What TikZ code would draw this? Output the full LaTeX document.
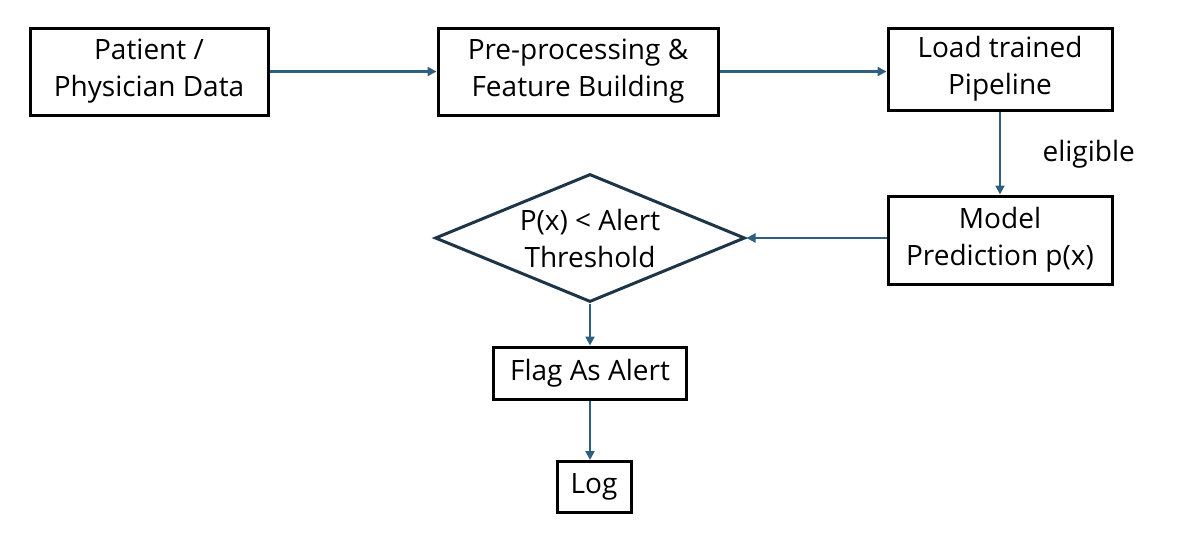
\documentclass[tikz,border=0pt]{standalone}
\usepackage{fontspec}
\setmainfont{Open Sans}
\usetikzlibrary{shapes.geometric,arrows.meta}
\definecolor{arr}{HTML}{2E5F7F}
\definecolor{dia}{HTML}{1D3547}
\begin{document}
\begin{tikzpicture}[x=1pt,y=-1pt,
  box/.style={draw=black,line width=3pt,minimum width=#1,align=center,inner sep=0pt,font=\fontsize{28}{37}\selectfont},
  conn/.style={draw=arr,line width=2.5pt,-{Triangle[length=9pt,width=9pt]}},
  lbl/.style={font=\fontsize{28}{37}\selectfont}]
\useasboundingbox (0,0) rectangle (1184,536);
\node[box=238pt,minimum height=87pt] (a) at (149,71.5) {Patient /\\Physician Data};
\node[box=280pt,minimum height=87pt] (b) at (578,71.5) {Pre-processing \&\\Feature Building};
\node[box=224pt,minimum height=82pt] (c) at (1000,69) {Load trained\\Pipeline};
\node[box=224pt,minimum height=88pt] (d) at (1000,240) {Model\\Prediction p(x)};
\node[draw=dia,line width=3pt,diamond,aspect=2.42,inner sep=0pt,minimum width=310pt,minimum height=128pt,align=center,font=\fontsize{28}{37}\selectfont] (e) at (590,238) {P(x) < Alert\\Threshold};
\node[box=193pt,minimum height=52pt] (f) at (590,373) {Flag As Alert};
\node[box=74pt,minimum height=51pt] (g) at (594,487) {Log};
\draw[conn] (a) -- (b);
\draw[conn] (b.east) -- (b.east -| c.west);
\draw[conn] (c) -- node[lbl,right=38pt,pos=0.52] (el) {eligible} (d);
\draw[conn] (d.west |- e.east) -- (e.east);
\draw[conn] (e.south) -- (e.south |- f.north);
\draw[conn] (f.south -| e.south) -- (e.south |- g.north);
\end{tikzpicture}
\end{document}
